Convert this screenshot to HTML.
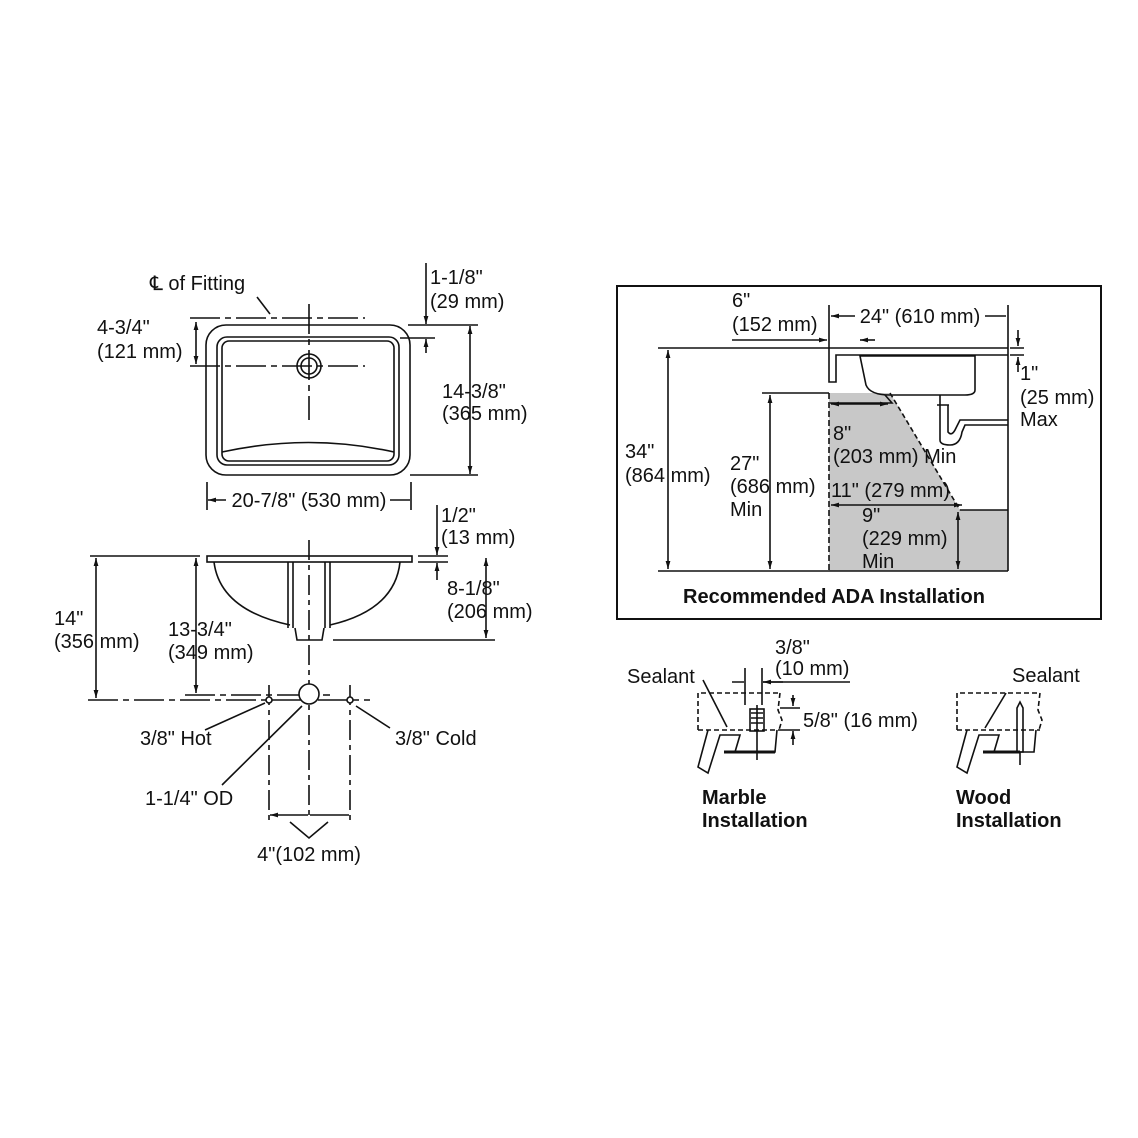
<!DOCTYPE html>
<html><head><style>body{margin:0;background:#fff}svg{display:block}text{font-family:"Liberation Sans",sans-serif;font-size:20px;fill:#111}.b{font-weight:bold}</style></head><body>
<svg width="1138" height="1138" viewBox="0 0 1138 1138" xmlns="http://www.w3.org/2000/svg">
<defs><marker id="a" viewBox="0 0 10 10" refX="10" refY="5" markerWidth="7" markerHeight="5" orient="auto-start-reverse"><path d="M0,2 L10,5 L0,8z" fill="#111"/></marker></defs>
<g stroke="#111" stroke-width="1.6" fill="none">
<!-- top view -->
<rect x="206" y="325" width="204" height="150" rx="20"/>
<rect x="217" y="337" width="182" height="128" rx="10"/>
<rect x="222" y="341" width="172" height="120" rx="7"/>
<path d="M222,452 Q309,433 394,452"/>
<circle cx="309" cy="366" r="12"/><circle cx="309" cy="366" r="8"/>
<path d="M190,318 H365 M190,366 H365 M309,304 V420" stroke-dasharray="30,5,6,5"/>
<path d="M257,297 L270,314"/>
<path d="M196,322 V364" marker-start="url(#a)" marker-end="url(#a)"/>
<path d="M426,263 V324" marker-end="url(#a)"/><path d="M426,353 V339" marker-end="url(#a)"/>
<path d="M408,325 H478 M400,338 H435 M410,475 H478"/>
<path d="M470,326 V474" marker-start="url(#a)" marker-end="url(#a)"/>
<path d="M207,482 V510 M411,482 V510"/>
<path d="M208,500 H226 M390,500 H410" marker-start="url(#a)"/>
<!-- side view -->
<rect x="207" y="556" width="205" height="6"/>
<path d="M214,562 Q220,610 290,625 M400,562 Q395,610 330,625"/>
<path d="M288,562 V628 M330,562 V628 M293,562 V628 M325,562 V628 M295,628 L297,640 H322 L324,628"/>
<path d="M90,556 H200 M418,556 H448 M418,562 H448 M333,640 H495"/>
<path d="M96,558 V698" marker-start="url(#a)" marker-end="url(#a)"/>
<path d="M196,558 V693" marker-start="url(#a)" marker-end="url(#a)"/>
<path d="M437,505 V555" marker-end="url(#a)"/><path d="M437,580 V563" marker-end="url(#a)"/>
<path d="M486,558 V638" marker-start="url(#a)" marker-end="url(#a)"/>
<path d="M88,700 H370 M185,695 H330" stroke-dasharray="30,5,6,5"/>
<path d="M309,540 V820 M269,685 V822 M350,685 V822" stroke-dasharray="20,5,5,5"/>
<circle cx="309" cy="694" r="10" fill="#fff"/>
<circle cx="269" cy="700" r="3" fill="#fff"/><circle cx="350" cy="700" r="3" fill="#fff"/>
<path d="M270,815 H308 M349,815 H310" marker-start="url(#a)"/>
<path d="M290,822 L309,838 L328,822"/>
<path d="M205,730 L265,703 M222,785 L302,706 M356,706 L390,728"/>
<!-- ADA box -->
<rect x="617" y="286" width="484" height="333" stroke-width="2"/>
<path d="M829,393 H890 L960,510 H1008 V571 H829Z" fill="#c8c8c8" stroke="none"/>
<path d="M890,393 L960,510" stroke-dasharray="5,3"/>
<path d="M829,393 V571" stroke-dasharray="6,3"/>
<path d="M658,571 H1008 M829,305 V382 H836 V355 H1008 M829,348 H1008 M1008,305 V571 M960,510 H1008"/>
<path d="M860,356 H975 V390 Q975,395 965,395 H890 Q870,395 866,385 Z"/>
<path d="M885,395 L892,403 H830 M940,395 V405 M937,405 H949 M940,405 V440 Q940,445 950,445 Q960,445 962,432 L965,425 H1008 M948,405 V432 Q952,437 956,428 L960,420 H1008" />
<path d="M658,348 H829 M762,393 H829"/>
<path d="M668,350 V569" marker-start="url(#a)" marker-end="url(#a)"/>
<path d="M770,395 V569" marker-start="url(#a)" marker-end="url(#a)"/>
<path d="M732,340 H827" marker-end="url(#a)"/>
<path d="M831,316 H855 M985,316 H1006" marker-start="url(#a)"/>
<path d="M875,340 H860" marker-end="url(#a)"/>
<path d="M1018,330 V346" marker-end="url(#a)"/><path d="M1018,372 V357" marker-end="url(#a)"/>
<path d="M1010,348 H1024 M1010,355 H1024"/>
<path d="M831,404 H888" marker-start="url(#a)" marker-end="url(#a)"/>
<path d="M831,505 H962" marker-start="url(#a)" marker-end="url(#a)"/>
<path d="M958,512 V569" marker-start="url(#a)" marker-end="url(#a)"/>
<!-- marble -->
<path d="M698,730 V693 H780 M780,693 L778,710 L782,720 L779,730 M698,730 H780" stroke-dasharray="5,3"/>
<path d="M703,680 L727,727"/>
<path d="M708,730 L698,767 L708,773 L720,735 H740 L735,752 H775 L777,730"/>
<path d="M724,752 H775" stroke-width="3"/>
<rect x="750" y="709" width="14" height="22"/>
<path d="M757,705 V760 M751,713 H763 M751,718 H763 M751,723 H763"/>
<path d="M745,668 V705 M762,668 V705"/>
<path d="M732,682 H744 M783,682 H763" marker-end="url(#a)"/><path d="M763,682 H850"/>
<path d="M793,695 V706" marker-end="url(#a)"/><path d="M793,745 V731" marker-end="url(#a)"/>
<path d="M780,708 H800 M780,730 H800"/>
<!-- wood -->
<path d="M957,730 V693 H1040 M1040,693 L1038,710 L1042,720 L1039,730 M957,730 H1040" stroke-dasharray="5,3"/>
<path d="M985,728 L1006,693"/>
<path d="M967,730 L957,767 L967,773 L979,735 H999 L994,752 H1034 L1036,730"/>
<path d="M983,752 H1020" stroke-width="3"/>
<path d="M1017,708 L1020,702 L1023,708 V752 H1017 Z M1020,752 V765"/>
</g>
<g>
<text x="150" y="290">℄ of Fitting</text>
<text x="430" y="284">1-1/8"</text><text x="430" y="308">(29 mm)</text>
<text x="97" y="334">4-3/4"</text><text x="97" y="358">(121 mm)</text>
<text x="442" y="398">14-3/8"</text><text x="442" y="420">(365 mm)</text>
<text x="309" y="507" text-anchor="middle">20-7/8" (530 mm)</text>
<text x="441" y="522">1/2"</text><text x="441" y="544">(13 mm)</text>
<text x="447" y="595">8-1/8"</text><text x="447" y="618">(206 mm)</text>
<text x="54" y="625">14"</text><text x="54" y="648">(356 mm)</text>
<text x="168" y="636">13-3/4"</text><text x="168" y="659">(349 mm)</text>
<text x="140" y="745">3/8" Hot</text>
<text x="395" y="745">3/8" Cold</text>
<text x="145" y="805">1-1/4" OD</text>
<text x="309" y="861" text-anchor="middle">4"(102 mm)</text>
<text x="732" y="307">6"</text><text x="732" y="331">(152 mm)</text>
<text x="920" y="323" text-anchor="middle">24" (610 mm)</text>
<text x="1020" y="380">1"</text><text x="1020" y="404">(25 mm)</text><text x="1020" y="426">Max</text>
<text x="625" y="458">34"</text><text x="625" y="482">(864 mm)</text>
<text x="730" y="470">27"</text><text x="730" y="493">(686 mm)</text><text x="730" y="516">Min</text>
<text x="833" y="440">8"</text><text x="833" y="463">(203 mm) Min</text>
<text x="831" y="497">11" (279 mm)</text>
<text x="862" y="522">9"</text><text x="862" y="545">(229 mm)</text><text x="862" y="568">Min</text>
<text class="b" x="834" y="603" text-anchor="middle">Recommended ADA Installation</text>
<text x="627" y="683">Sealant</text>
<text x="775" y="654">3/8"</text><text x="775" y="675">(10 mm)</text>
<text x="803" y="727">5/8" (16 mm)</text>
<text class="b" x="702" y="804">Marble</text><text class="b" x="702" y="827">Installation</text>
<text x="1012" y="682">Sealant</text>
<text class="b" x="956" y="804">Wood</text><text class="b" x="956" y="827">Installation</text>
</g>
</svg>
</body></html>
